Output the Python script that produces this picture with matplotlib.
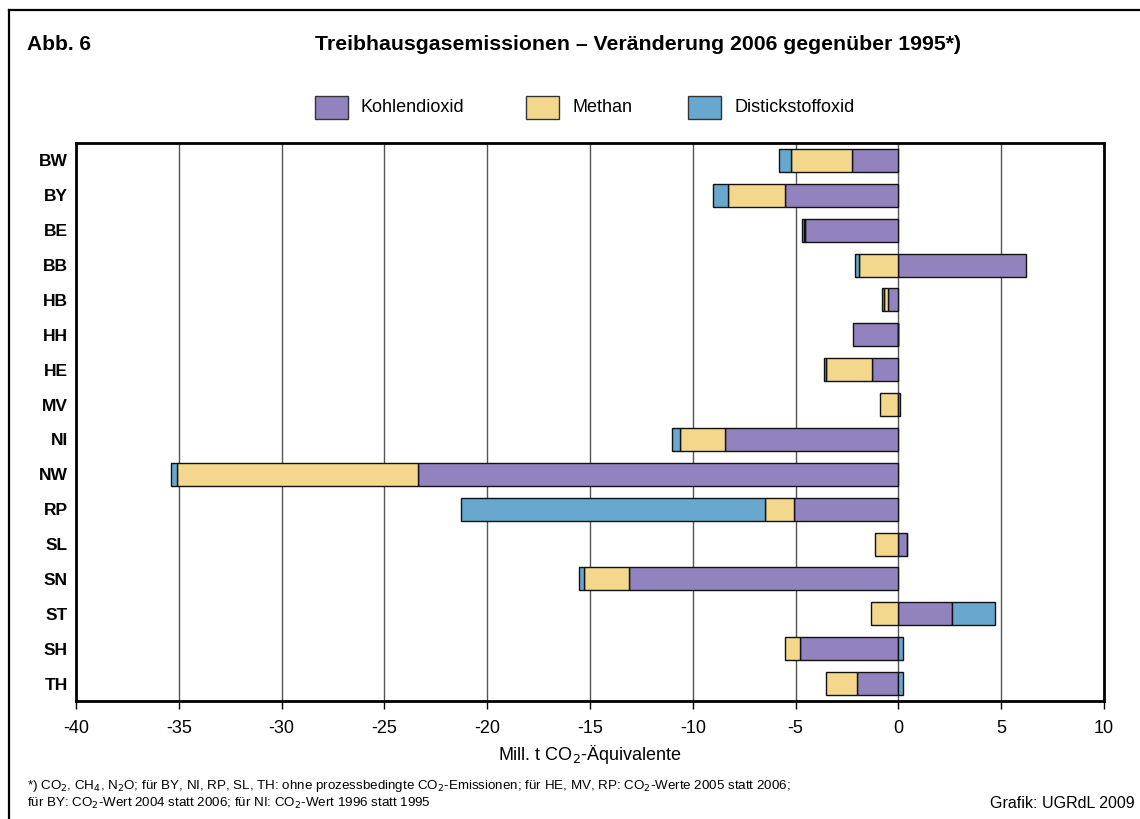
import matplotlib
matplotlib.use("Agg")
from matplotlib import pyplot as plt
from matplotlib.lines import Line2D
from matplotlib.patches import Rectangle
import numpy as np

plt.rcParams["font.family"] = ["Liberation Sans", "DejaVu Sans"]

laender = ["BW", "BY", "BE", "BB", "HB", "HH", "HE", "MV",
           "NI", "NW", "RP", "SL", "SN", "ST", "SH", "TH"]
kohlendioxid = [-2.24, -5.52, -4.53, 6.2, -0.5, -2.22, -1.3, 0.0,
                -8.41, -23.36, -5.1, 0.4, -13.12, 2.6, -4.79, -2.0]
methan = [-2.98, -2.79, -0.08, -1.9, -0.18, 0.0, -2.2, -0.91,
          -2.2, -11.71, -1.41, -1.12, -2.19, -1.31, -0.73, -1.5]
distickstoffoxid = [-0.6, -0.73, -0.1, -0.23, -0.11, 0.0, -0.11, 0.1,
                    -0.42, -0.31, -14.75, 0.0, -0.21, 2.1, 0.21, 0.21]

serien = [("Kohlendioxid", kohlendioxid, "#9283be"),
          ("Methan", methan, "#f2d78c"),
          ("Distickstoffoxid", distickstoffoxid, "#68a8cf")]

W, H = 1140, 819
fig = plt.figure(figsize=(W / 100, H / 100), dpi=100)


def fx(px):
    return px / W


def fy(py):
    return 1 - py / H


ax = fig.add_axes([fx(76), fy(701), fx(1104) - fx(76), fy(143) - fy(701)])

y = np.arange(len(laender))
pos = np.zeros(len(laender))
neg = np.zeros(len(laender))
for name, werte, farbe in serien:
    werte = np.array(werte)
    left = np.where(werte >= 0, pos, neg)
    ax.barh(y, werte, left=left, height=0.66, color=farbe,
            edgecolor="#111111", linewidth=1.0, zorder=3)
    pos = pos + np.where(werte >= 0, werte, 0)
    neg = neg + np.where(werte < 0, werte, 0)

ax.set_xlim(-40, 10)
ax.set_ylim(len(laender) - 0.5, -0.5)
ax.set_xticks(np.arange(-40, 11, 5))
ax.set_xticklabels([str(v) for v in range(-40, 11, 5)], fontsize=13)
ax.set_yticks(y)
ax.set_yticklabels(laender, fontsize=12.5, fontweight="bold")
ax.tick_params(axis="y", length=0, pad=6)
ax.tick_params(axis="x", length=6, width=1, direction="out", pad=8)
ax.grid(axis="x", color="#555555", linewidth=1.0, zorder=0)
for s in ax.spines.values():
    s.set_linewidth(2)
ax.set_xlabel("Mill. t CO$_2$-Äquivalente", fontsize=13, labelpad=4)

# outer frame
fig.add_artist(Line2D([fx(9), 1], [fy(10), fy(10)], color="black", lw=1.6))
fig.add_artist(Line2D([fx(9), fx(9)], [0, fy(10)], color="black", lw=1.6))

fig.text(fx(27), fy(44), "Abb. 6", fontsize=15, fontweight="bold", va="center")
fig.text(fx(315), fy(44), "Treibhausgasemissionen – Veränderung 2006 gegenüber 1995*)",
         fontsize=15.3, fontweight="bold", va="center")

# legend
legend_x = [315, 526, 688]
for (name, werte, farbe), lx in zip(serien, legend_x):
    fig.add_artist(Rectangle((fx(lx), fy(119)), fx(33), fy(96) - fy(119),
                             facecolor=farbe, edgecolor="#333333", lw=1.0,
                             transform=fig.transFigure))
    fig.text(fx(lx + 46), fy(108), name, fontsize=13, va="center")

fig.text(fx(27), fy(786),
         "*) CO$_2$, CH$_4$, N$_2$O; für BY, NI, RP, SL, TH: ohne prozessbedingte "
         "CO$_2$-Emissionen; für HE, MV, RP: CO$_2$-Werte 2005 statt 2006;",
         fontsize=9.6, va="center")
fig.text(fx(27), fy(803),
         "für BY: CO$_2$-Wert 2004 statt 2006; für NI: CO$_2$-Wert 1996 statt 1995",
         fontsize=9.6, va="center")
fig.text(fx(1135), fy(803), "Grafik: UGRdL 2009", fontsize=11.5, va="center", ha="right")

fig.savefig("out.png", dpi=100)
